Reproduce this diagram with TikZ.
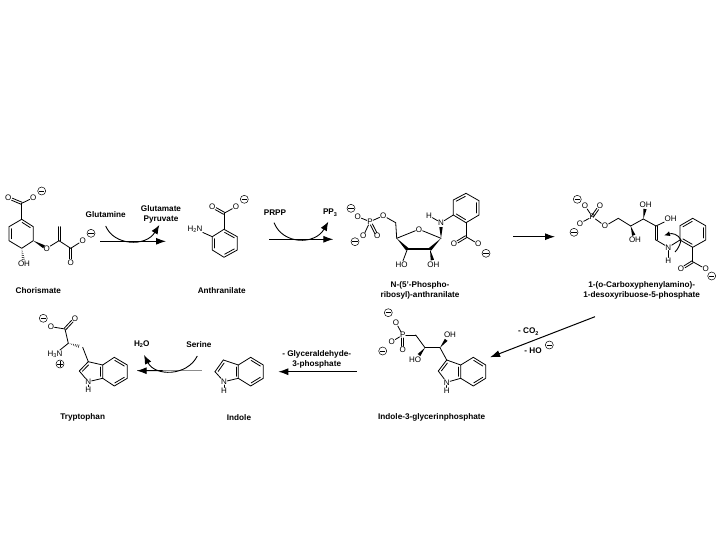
\documentclass[tikz,border=0pt]{standalone}
\usepackage{fontspec}
\setmainfont{Liberation Sans}
\usetikzlibrary{calc,arrows.meta}
\tikzset{
  x=1pt,y=-1pt,
  bond/.style={line width=0.8pt,line cap=round},
  atom/.style={inner sep=0.3pt,font=\fontsize{8}{8}\selectfont,text=black},
  caption/.style={inner sep=0pt,align=center,font=\fontsize{8.2}{10}\selectfont\bfseries},
  reagent/.style={inner sep=0pt,align=center,font=\fontsize{8.2}{10}\selectfont\bfseries},
  rarrow/.style={line width=1pt,-{Latex[length=10pt,width=7pt]}},
  carrow/.style={line width=0.9pt,-{Latex[length=9pt,width=7pt]}},
  minus/.style={circle,draw,line width=0.5pt,inner sep=0pt,minimum size=8pt,
    path picture={\draw[line width=0.7pt] ([xshift=-2.6pt]path picture bounding box.center)--([xshift=2.6pt]path picture bounding box.center);}},
  plus/.style={circle,draw,line width=0.5pt,inner sep=0pt,minimum size=8pt,
    path picture={\draw[line width=0.7pt] ([xshift=-2.6pt]path picture bounding box.center)--([xshift=2.6pt]path picture bounding box.center)
      ([yshift=-2.6pt]path picture bounding box.center)--([yshift=2.6pt]path picture bounding box.center);}},
}
\newcommand\sbs[1]{\raisebox{-1.2pt}{\fontsize{5.5}{5.5}\selectfont #1}}
\newcommand\bnd[2]{\draw[bond] (#1) -- (#2);}
% double bond to an atom label at the second end
\newcommand\dbo[2]{\draw[bond,shorten >=4pt] ($(#1)!1.1pt!90:(#2)$) -- ($(#2)!1.1pt!-90:(#1)$);
  \draw[bond,shorten >=4pt] ($(#1)!1.1pt!-90:(#2)$) -- ($(#2)!1.1pt!90:(#1)$);}
% double bond between two carbons
\newcommand\dbc[2]{\draw[bond] ($(#1)!1.1pt!90:(#2)$) -- ($(#2)!1.1pt!-90:(#1)$);
  \draw[bond] ($(#1)!1.1pt!-90:(#2)$) -- ($(#2)!1.1pt!90:(#1)$);}
% inner second line of a ring double bond
\newcommand\inr[3]{\draw[bond,shorten <=2pt,shorten >=2pt] ($(#1)!2.4pt!#3:(#2)$) -- ($(#2)!2.4pt!-#3:(#1)$);}
% solid wedge: narrow at #1, running a fraction #3 of the way to #2
\newcommand\wdg[3]{\fill ($($(#1)!#3!(#2)$)!1.7pt!90:(#1)$) -- (#1) -- ($($(#1)!#3!(#2)$)!1.7pt!-90:(#1)$) -- cycle;}
\newcommand\hsh[2]{\foreach \t/\w in {0.12/0.35,0.24/0.6,0.36/0.85,0.48/1.1,0.6/1.35,0.72/1.6}{%
  \draw[line width=0.5pt] ($($(#1)!\t!(#2)$)!\w pt!90:(#2)$) -- ($($(#1)!\t!(#2)$)!\w pt!-90:(#2)$);}}
\begin{document}
\begin{tikzpicture}
\useasboundingbox (0,0) rectangle (720,540);
\fill[white] (0,0) rectangle (720,540);

% ---------- Chorismate
\foreach \n/\p in {a1/{21.7,219.3},a2/{33.3,226.7},a3/{33.3,240.7},a4/{21.7,248.3},a5/{9,240.7},a6/{9,226.7},a7/{21.7,203.3},a8/{59,240.7},a9/{59,226.7},a10/{70.7,248.3}}
  \coordinate (\n) at (\p);
\node[atom] (aO1) at (8.3,197.7) {O};
\node[atom] (aO2) at (33.3,197.7) {O};
\node[minus] (am1) at (41.7,191) {};
\node[atom] (aO3) at (46.7,248.3) {O};
\node[atom] (aO4) at (82.7,240.7) {O};
\node[minus] (am2) at (91,233.3) {};
\node[atom] (aO5) at (70.7,262.7) {O};
\node[atom] (aOH) at (24,263.5) {OH};
\draw[bond,line join=round] (a1)--(a2)--(a3)--(a4)--(a5)--(a6)--cycle;
\inr{a1}{a2}{-90}\inr{a5}{a6}{-90}
\bnd{a1}{a7}\dbo{a7}{aO1}\bnd{a7}{aO2}
\wdg{a3}{aO3}{0.8}\bnd{aO3}{a8}
\dbc{a8}{a9}\bnd{a8}{a10}\bnd{a10}{aO4}\dbo{a10}{aO5}
\hsh{a4}{aOH}

% ---------- Glutamine reaction
\node[reagent] (r1) at (105.7,215) {Glutamine};
\node[reagent] (r2) at (161,214.3) {Glutamate\\Pyruvate};
\coordinate (ra1) at (100,241.3); \coordinate (rb1) at (166,241.3);
\coordinate (rc1) at (105.7,226); \coordinate (rd1) at (159.3,225);
\draw[rarrow] (ra1)--(rb1);
\draw[carrow] (rc1) .. controls (114,246) and (146,247) .. (rd1);

% ---------- Anthranilate
\foreach \n/\p in {b1/{224,229.3},b2/{237.3,236.7},b3/{237.3,250},b4/{224,257.3},b5/{212.3,250},b6/{212.3,236.7},b7/{224,213.3}}
  \coordinate (\n) at (\p);
\node[atom] (bO1) at (212.3,206.7) {O};
\node[atom] (bO2) at (236,206.7) {O};
\node[minus] (bm) at (244.3,199.3) {};
\node[atom] (bN) at (195,229) {H\sbs{2}N};
\draw[bond,line join=round] (b1)--(b2)--(b3)--(b4)--(b5)--(b6)--cycle;
\inr{b1}{b2}{-90}\inr{b3}{b4}{-90}\inr{b5}{b6}{-90}
\bnd{b1}{b7}\dbo{b7}{bO1}\bnd{b7}{bO2}\bnd{b6}{bN}

% ---------- PRPP reaction
\node[reagent] (r3) at (275,212.7) {PRPP};
\node[reagent] (r4) at (330,212.7) {PP\sbs{3}};
\coordinate (ra2) at (269,239.3); \coordinate (rb2) at (333.3,239.3);
\coordinate (rc2) at (274,222.7); \coordinate (rd2) at (328.3,221.7);
\draw[rarrow] (ra2)--(rb2);
\draw[carrow] (rc2) .. controls (283,245) and (315,245) .. (rd2);

% ---------- N-(5'-Phosphoribosyl)-anthranilate
\foreach \n/\p in {c1/{395.7,222.7},c2/{396.7,238.3},c3/{441,238.3},c4/{430,249.3},c5/{407.3,249.3},
  c6/{453.3,200},c7/{466,193.3},c8/{479,200.7},c9/{479,215},c10/{466,222.7},c11/{453.3,215},c12/{466,236.7}}
  \coordinate (\n) at (\p);
\node[minus] (cm1) at (351,208.3) {};
\node[atom] (cO1) at (357.7,216.7) {O};
\node[atom] (cP) at (370,221.7) {P};
\node[atom] (cO2) at (383.3,215.7) {O};
\node[atom] (cO3) at (363.3,236) {O};
\node[minus] (cm2) at (355,241.7) {};
\node[atom] (cO4) at (377.3,236) {O};
\node[atom] (cOr) at (419,229.3) {O};
\node[atom] (cHO) at (401.7,264.3) {HO};
\node[atom] (cOH) at (433.3,264.3) {OH};
\node[atom] (cN) at (441,222.7) {N};
\node[atom] (cH) at (429,215.7) {H};
\node[atom] (cO5) at (454,244) {O};
\node[atom] (cO6) at (478.3,244) {O};
\node[minus] (cm3) at (486,253.3) {};
\bnd{cO1}{cP}\bnd{cP}{cO2}\bnd{cP}{cO3}\draw[bond,shorten <=3pt,shorten >=3pt] ($(cP)!1.1pt!90:(cO4)$) -- ($(cO4)!1.1pt!-90:(cP)$);\draw[bond,shorten <=3pt,shorten >=3pt] ($(cP)!1.1pt!-90:(cO4)$) -- ($(cO4)!1.1pt!90:(cP)$);
\bnd{cO2}{c1}\bnd{c1}{c2}\bnd{c2}{cOr}\bnd{cOr}{c3}
\wdg{c2}{c5}{1}\wdg{c3}{c4}{1}
\draw[line width=2.2pt,line cap=round] (c5)--(c4);
\bnd{c5}{cHO}\wdg{c4}{cOH}{0.72}\wdg{c3}{cN}{0.72}\bnd{cN}{cH}\bnd{cN}{c11}
\draw[bond,line join=round] (c6)--(c7)--(c8)--(c9)--(c10)--(c11)--cycle;
\inr{c6}{c7}{-90}\inr{c8}{c9}{-90}\inr{c10}{c11}{-90}
\bnd{c10}{c12}\dbo{c12}{cO5}\bnd{c12}{cO6}

% ---------- middle arrow
\coordinate (ra3) at (513.3,236.7); \coordinate (rb3) at (555,236.7);
\draw[rarrow] (ra3)--(rb3);

% ---------- 1-(o-Carboxyphenylamino)-1-desoxyribuose-5-phosphate
\foreach \n/\p in {d1/{618.3,218.3},d2/{630.7,226},d3/{643.3,219},d4/{656,226},d5/{656,240},
  d6/{680,225.7},d7/{692.7,218.3},d8/{705.7,225.7},d9/{705.7,240},d10/{692.7,247.3},d11/{680,240},d12/{692.7,261.7}}
  \coordinate (\n) at (\p);
\node[minus] (dm1) at (577.3,199.3) {};
\node[atom] (dO1) at (585,205.7) {O};
\node[atom] (dO2) at (600,205.7) {O};
\node[atom] (dP) at (592.3,216.7) {P};
\node[atom] (dO3) at (580,223.3) {O};
\node[minus] (dm2) at (574,232.3) {};
\node[atom] (dO4) at (605,226) {O};
\node[atom] (dOH1) at (635,239.3) {OH};
\node[atom] (dOH2) at (645.7,204.3) {OH};
\node[atom] (dOH3) at (670.7,219) {OH};
\node[atom] (dN) at (668.3,247.3) {N};
\node[atom] (dH) at (668.3,260.7) {H};
\node[atom] (dO5) at (681,269) {O};
\node[atom] (dO6) at (705.7,269) {O};
\node[minus] (dm3) at (711.7,276) {};
\bnd{dO1}{dP}\dbo{dP}{dO2}\bnd{dP}{dO3}\bnd{dP}{dO4}
\bnd{dO4}{d1}\bnd{d1}{d2}\bnd{d2}{d3}\bnd{d3}{d4}
\wdg{d2}{dOH1}{0.7}\wdg{d3}{dOH2}{0.68}\bnd{d4}{dOH3}
\dbc{d4}{d5}\bnd{d5}{dN}\bnd{dN}{dH}\bnd{dN}{d11}
\draw[bond,line join=round] (d6)--(d7)--(d8)--(d9)--(d10)--(d11)--cycle;
\inr{d6}{d7}{-90}\inr{d8}{d9}{-90}\inr{d10}{d11}{-90}
\bnd{d10}{d12}\dbo{d12}{dO5}\bnd{d12}{dO6}
\coordinate (dc2) at (664,235.5); \coordinate (dc3) at (675,252); \coordinate (dc4) at (681,240);
\draw[line width=0.9pt,-{Latex[length=6pt,width=5pt]}] (dc4) .. controls (678,234) and (672,233) .. (dc2);
\draw[line width=0.9pt] (dc3) .. controls (678,249) and (680,245) .. (dc4);

% ---------- Indole-3-glycerinphosphate
\foreach \n/\p in {e1/{415.7,335},e2/{425,347.7},e3/{440,347.7},e4/{446.7,360},e5/{438.3,371},
  e6/{460.7,378.3},e7/{460.7,365},e8/{473.3,357.3},e9/{485.7,365},e10/{485.7,378.3},e11/{473.3,386}}
  \coordinate (\n) at (\p);
\node[minus] (em1) at (388.3,312.7) {};
\node[atom] (eO1) at (396,322.7) {O};
\node[atom] (eP) at (402.7,335) {P};
\node[atom] (eO2) at (391.7,341.7) {O};
\node[minus] (em2) at (382.7,351) {};
\node[atom] (eO3) at (402.7,349.3) {O};
\node[atom] (eHO) at (415,360) {HO};
\node[atom] (eOH) at (450,335) {OH};
\node[atom] (eN) at (446.7,382.3) {N};
\node[atom] (eH) at (446.7,390.7) {H};
\bnd{eO1}{eP}\bnd{eP}{eO2}\draw[bond,shorten <=3pt,shorten >=3pt] ($(eP)!1.1pt!90:(eO3)$) -- ($(eO3)!1.1pt!-90:(eP)$);\draw[bond,shorten <=3pt,shorten >=3pt] ($(eP)!1.1pt!-90:(eO3)$) -- ($(eO3)!1.1pt!90:(eP)$);
\bnd{eP}{e1}\bnd{e1}{e2}\bnd{e2}{e3}\bnd{e3}{e4}
\wdg{e2}{eHO}{0.6}\wdg{e3}{eOH}{0.62}
\bnd{e4}{e5}\inr{e5}{e4}{-90}\bnd{e5}{eN}\bnd{eN}{e6}\bnd{eN}{eH}\bnd{e4}{e7}
\draw[bond,line join=round] (e6)--(e7)--(e8)--(e9)--(e10)--(e11)--cycle;
\inr{e7}{e6}{-90}\inr{e8}{e9}{-90}\inr{e10}{e11}{-90}

% ---------- CO2 arrow
\coordinate (ra4) at (595,316.7); \coordinate (rb4) at (490,357.3);
\draw[rarrow] (ra4)--(rb4);
\node[reagent] (r5) at (528.3,331.7) {- CO\sbs{2}};
\node[reagent] (r6) at (533,351) {- HO};
\node[minus] (rm) at (549.3,345) {};

% ---------- Glyceraldehyde arrow
\coordinate (ra5) at (356.7,371.7); \coordinate (rb5) at (278.3,371.7);
\draw[rarrow] (ra5)--(rb5);
\node[reagent] (r7) at (316.7,359.7) {- Glyceraldehyde-\\3-phosphate};

% ---------- Indole
\foreach \n/\p in {f1/{223.3,360},f2/{215,371.7},f3/{238.3,378.3},f4/{238.3,365},f5/{250.7,357.3},f6/{263.3,365},f7/{263.3,378.3},f8/{250.7,386}}
  \coordinate (\n) at (\p);
\node[atom] (fN) at (224,381.7) {N};
\node[atom] (fH) at (224,390.7) {H};
\bnd{f1}{f2}\inr{f2}{f1}{-90}\bnd{f2}{fN}\bnd{fN}{f3}\bnd{fN}{fH}\bnd{f1}{f4}
\draw[bond,line join=round] (f3)--(f4)--(f5)--(f6)--(f7)--(f8)--cycle;
\inr{f4}{f3}{-90}\inr{f5}{f6}{-90}\inr{f7}{f8}{-90}

% ---------- Serine reaction
\node[reagent] (r8) at (141.7,344.3) {H\sbs{2}O};
\node[reagent] (r9) at (199,344.3) {Serine};
\coordinate (ra6) at (201.7,370.7); \coordinate (rb6) at (136.7,370.7);
\coordinate (rc6) at (197.3,356); \coordinate (rd6) at (144,355);
\draw[draw=black!45,line width=1pt] (ra6)--(rb6);
\draw[rarrow] ($(ra6)!0.6!(rb6)$)--(rb6);
\draw[carrow] (rc6) .. controls (187,376.5) and (155,376.5) .. (rd6);

% ---------- Tryptophan
\foreach \n/\p in {g1/{65,329},g2/{68.3,343.3},g3/{82.7,347.3},g4/{88.3,361.7},g5/{79.3,371},
  g6/{102.7,378.3},g7/{102.7,365},g8/{114.3,357.3},g9/{127.3,365},g10/{127.3,378.3},g11/{114.3,386}}
  \coordinate (\n) at (\p);
\node[minus] (gm) at (43.3,318.3) {};
\node[atom] (gO1) at (51,326.7) {O};
\node[atom] (gO2) at (75,318.3) {O};
\node[atom] (gNp) at (55,354) {H\sbs{3}N};
\node[plus] (gp) at (60,364) {};
\node[atom] (gN) at (88.3,381.7) {N};
\node[atom] (gH) at (88.3,390) {H};
\bnd{gO1}{g1}\dbo{g1}{gO2}\bnd{g1}{g2}\bnd{g2}{gNp}\hsh{g2}{g3}\bnd{g3}{g4}
\bnd{g4}{g5}\inr{g5}{g4}{-90}\bnd{g5}{gN}\bnd{gN}{g6}\bnd{gN}{gH}\bnd{g4}{g7}
\draw[bond,line join=round] (g6)--(g7)--(g8)--(g9)--(g10)--(g11)--cycle;
\inr{g7}{g6}{-90}\inr{g8}{g9}{-90}\inr{g10}{g11}{-90}

% ---------- captions
\node[caption] (t1) at (38.3,290.7) {Chorismate};
\node[caption] (t2) at (221.7,290.7) {Anthranilate};
\node[caption] (t3) at (420,290.7) {N-(5'-Phospho-\\ribosyl)-anthranilate};
\node[caption] (t4) at (641.7,290.5) {1-(o-Carboxyphenylamino)-\\1-desoxyribuose-5-phosphate};
\node[caption] (t5) at (82.7,417.3) {Tryptophan};
\node[caption] (t6) at (239,417.3) {Indole};
\node[caption] (t7) at (431.7,417.3) {Indole-3-glycerinphosphate};
\end{tikzpicture}
\end{document}
